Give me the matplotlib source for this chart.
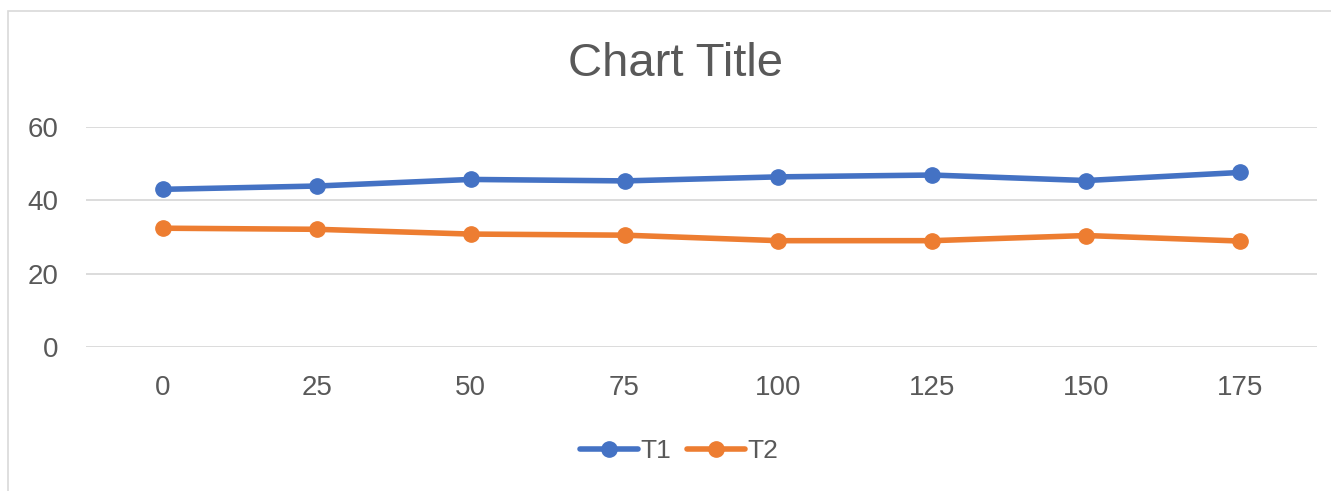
import matplotlib
matplotlib.use("Agg")
import matplotlib.pyplot as plt
from matplotlib import font_manager
from matplotlib.patches import Rectangle

# data
categories = ["0", "25", "50", "75", "100", "125", "150", "175"]
t1 = [43.0, 43.9, 45.7, 45.3, 46.4, 46.9, 45.4, 47.6]
t2 = [32.4, 32.1, 30.8, 30.5, 29.0, 29.0, 30.4, 28.9]
y_ticks = [0, 20, 40, 60]

names = {f.name for f in font_manager.fontManager.ttflist}
fam = "Liberation Sans Narrow" if "Liberation Sans Narrow" in names else "Liberation Sans"
plt.rcParams["font.family"] = [fam, "DejaVu Sans"]

text_col = "#595959"
blue = "#4472C4"
orange = "#ED7D31"

fig = plt.figure(figsize=(13.31, 4.91), dpi=100)

# chart border (light grey frame, right/bottom cropped off)
fig.patches.append(Rectangle((8 / 1331, -0.1), 1.2, 1 - 11 / 491 + 0.1,
                             transform=fig.transFigure, fill=False,
                             edgecolor="#D9D9D9", linewidth=1.2))

ax = fig.add_axes([86 / 1331, 1 - 347 / 491, (1317 - 86) / 1331, 220 / 491])
x = list(range(len(categories)))
ax.plot(x, t1, color=blue, lw=4, marker="o", ms=11, label="T1",
        solid_capstyle="round")
ax.plot(x, t2, color=orange, lw=4, marker="o", ms=11, label="T2",
        solid_capstyle="round")

ax.set_xlim(-0.5, len(categories) - 0.5)
ax.set_ylim(0, 60)
ax.set_yticks(y_ticks)
ax.set_xticks(x)
ax.set_xticklabels(categories)
ax.grid(axis="y", color="#D9D9D9", lw=1.3)
ax.set_axisbelow(True)
for s in ax.spines.values():
    s.set_visible(False)
ax.tick_params(length=0, labelsize=20, colors=text_col)
ax.tick_params(axis="x", pad=20)
ax.tick_params(axis="y", pad=20)

fig.text(676 / 1331, 1 - 64 / 491, "Chart Title", ha="center", va="center",
         fontsize=34, color=text_col)

leg = fig.legend(loc="center", bbox_to_anchor=(679 / 1331, 1 - 451 / 491),
                 ncol=2, frameon=False, fontsize=19, handlelength=2.2,
                 columnspacing=0.6, handletextpad=0.1)
for t in leg.get_texts():
    t.set_color(text_col)

fig.savefig("out.png", dpi=100)
